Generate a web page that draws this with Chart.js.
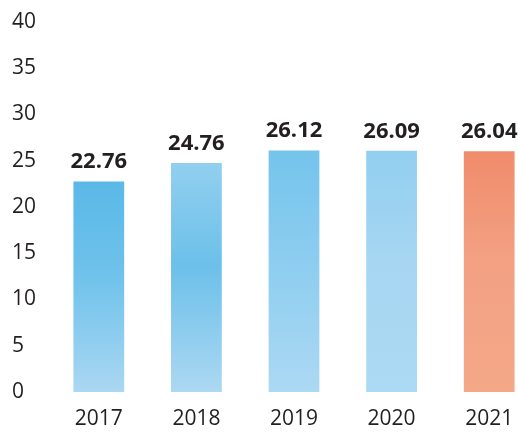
<!DOCTYPE html>
<html>
<head>
<meta charset="utf-8">
<script src="https://cdn.jsdelivr.net/npm/chart.js@4"></script>
<style>
  html, body { margin: 0; padding: 0; background: #fff; overflow: hidden; }
  #wrap { width: 540px; height: 434px; }
</style>
</head>
<body>
<div id="wrap"><canvas id="barChart" width="540" height="434"></canvas></div>
<script>
// chart data
const years = ['2017', '2018', '2019', '2020', '2021'];
const values = [22.76, 24.76, 26.12, 26.09, 26.04];
const yTicks = [0, 5, 10, 15, 20, 25, 30, 35, 40];

// watercolor-ish fills: [top, middle, bottom]
const barShades = [
  ['#5ab8e7', '#6fc2eb', '#aad7f2'],
  ['#92cfef', '#6cc0ea', '#acd8f2'],
  ['#74c4ec', '#8ccdef', '#acd9f3'],
  ['#92cff0', '#a6d6f2', '#acd9f3'],
  ['#f08c6b', '#f3a083', '#f4a888']
];

const textColor = '#231f20';
const fontFamily = '"Open Sans", "Noto Sans", sans-serif';

const barFill = (ctx) => {
  const chart = ctx.chart;
  const area = chart.chartArea;
  if (!area) return barShades[ctx.dataIndex][1];
  const s = barShades[ctx.dataIndex];
  const yTop = chart.scales.y.getPixelForValue(values[ctx.dataIndex]);
  const g = chart.ctx.createLinearGradient(0, yTop, 0, area.bottom);
  g.addColorStop(0, s[0]);
  g.addColorStop(0.45, s[1]);
  g.addColorStop(1, s[2]);
  return g;
};

// draws the value above each bar
const valueLabels = {
  id: 'valueLabels',
  afterDatasetsDraw(chart) {
    const ctx = chart.ctx;
    const meta = chart.getDatasetMeta(0);
    ctx.save();
    ctx.font = 'bold 22px ' + fontFamily;
    ctx.fillStyle = textColor;
    ctx.textAlign = 'center';
    ctx.textBaseline = 'alphabetic';
    meta.data.forEach((bar, i) => {
      ctx.fillText(values[i].toFixed(2), bar.x, bar.y - 13);
    });
    ctx.restore();
  }
};

new Chart(document.getElementById('barChart'), {
  type: 'bar',
  data: {
    labels: years,
    datasets: [{
      data: values,
      backgroundColor: barFill,
      borderWidth: 0,
      categoryPercentage: 1,
      barPercentage: 0.52
    }]
  },
  options: {
    responsive: false,
    animation: false,
    layout: { padding: { left: 12, right: 2, top: 22, bottom: 3 } },
    plugins: {
      legend: { display: false },
      tooltip: { enabled: false }
    },
    scales: {
      x: {
        afterFit: (scale) => { scale.height = 39; },
        grid: { display: false, drawTicks: false },
        border: { display: false },
        ticks: {
          color: textColor,
          padding: 14,
          font: { family: fontFamily, size: 21 }
        }
      },
      y: {
        min: 0,
        max: 40,
        afterBuildTicks: (scale) => { scale.ticks = yTicks.map(v => ({ value: v })); },
        afterFit: (scale) => { scale.width = 38; },
        grid: { display: false, drawTicks: false },
        border: { display: false },
        ticks: {
          color: textColor,
          crossAlign: 'far',
          padding: 0,
          font: { family: fontFamily, size: 21 }
        }
      }
    }
  },
  plugins: [valueLabels]
});
</script>
</body>
</html>
